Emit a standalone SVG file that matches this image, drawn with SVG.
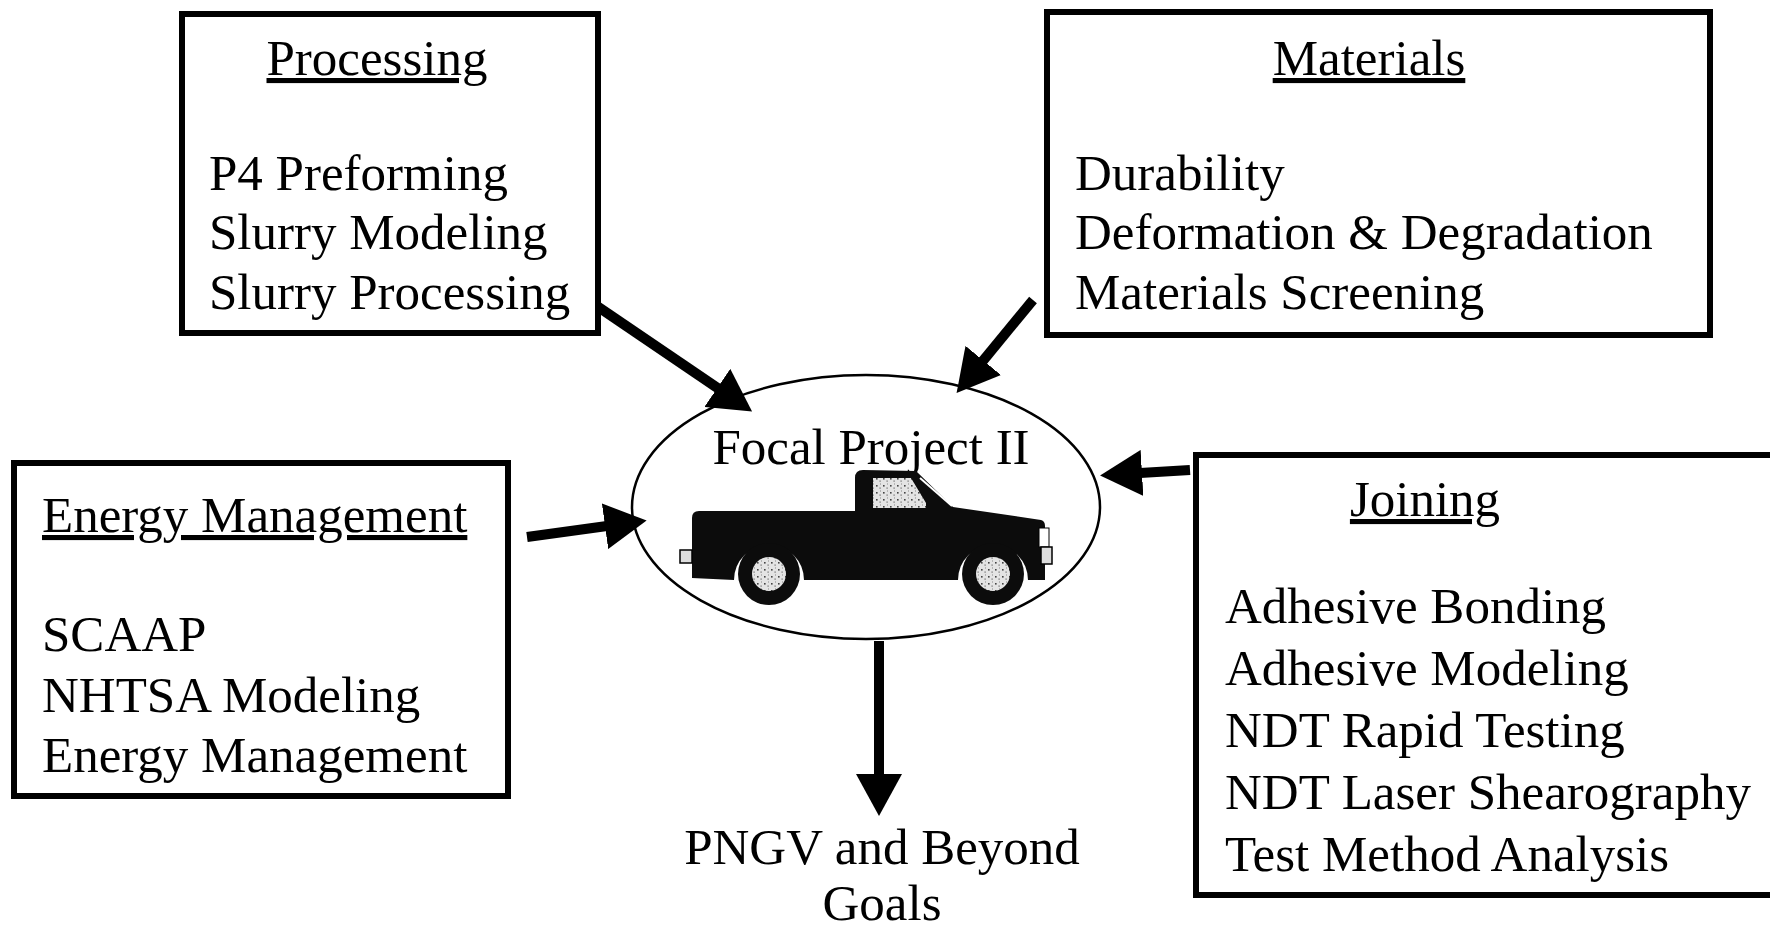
<svg xmlns="http://www.w3.org/2000/svg" width="1770" height="930" viewBox="0 0 1770 930">
  <defs>
    <style>
      .box { fill: #ffffff; stroke: #000000; stroke-width: 6; }
      .txt { font-family: "Liberation Serif", "Times New Roman", serif; font-size: 51px; fill: #000000; }
      .title { text-decoration: underline; }
      .mid { text-anchor: middle; }
      .shaft { stroke: #000000; stroke-width: 10; fill: none; marker-end: url(#head); }
    </style>
    <!-- solid triangular arrowhead, base at the line end -->
    <marker id="head" markerUnits="userSpaceOnUse" viewBox="0 0 42 46" markerWidth="42" markerHeight="46" refX="2" refY="23" orient="auto">
      <path d="M0,0 L42,23 L0,46 Z" fill="#000000"/>
    </marker>
    <!-- grainy light fill for the cab window and wheel hubs -->
    <pattern id="speck" width="7" height="7" patternUnits="userSpaceOnUse">
      <rect width="7" height="7" fill="#e4e4e4"/>
      <rect x="1" y="2" width="1.6" height="1.6" fill="#444"/>
      <rect x="4.5" y="4.5" width="1.2" height="1.2" fill="#666"/>
      <rect x="5" y="0.5" width="1" height="1" fill="#888"/>
    </pattern>
  </defs>

  <rect width="1770" height="930" fill="#ffffff"/>

  <!-- connectors -->
  <g id="connectors">
    <line class="shaft" x1="588" y1="300" x2="719" y2="389"/>
    <line class="shaft" x1="1033" y1="300" x2="982" y2="362"/>
    <line class="shaft" x1="1190" y1="470" x2="1140" y2="473"/>
    <line class="shaft" x1="527" y1="537" x2="607" y2="526"/>
    <line class="shaft" x1="879" y1="641" x2="879" y2="776"/>
  </g>

  <g id="processing">
    <rect class="box" x="182" y="14" width="416" height="319"/>
    <text class="txt title mid" x="377" y="75">Processing</text>
    <text class="txt" x="209" y="190">P4 Preforming</text>
    <text class="txt" x="209" y="249">Slurry Modeling</text>
    <text class="txt" x="209" y="309">Slurry Processing</text>
  </g>

  <g id="materials">
    <rect class="box" x="1047" y="12" width="663" height="323"/>
    <text class="txt title mid" x="1369" y="75">Materials</text>
    <text class="txt" x="1075" y="190">Durability</text>
    <text class="txt" x="1075" y="249">Deformation &amp; Degradation</text>
    <text class="txt" x="1075" y="309">Materials Screening</text>
  </g>

  <g id="energy-management">
    <rect class="box" x="14" y="463" width="494" height="333"/>
    <text class="txt title" x="42" y="532">Energy Management</text>
    <text class="txt" x="42" y="651">SCAAP</text>
    <text class="txt" x="42" y="712">NHTSA Modeling</text>
    <text class="txt" x="42" y="772">Energy Management</text>
  </g>

  <g id="joining">
    <rect class="box" x="1196" y="455" width="590" height="440"/>
    <text class="txt title mid" x="1425" y="516">Joining</text>
    <text class="txt" x="1225" y="623">Adhesive Bonding</text>
    <text class="txt" x="1225" y="685">Adhesive Modeling</text>
    <text class="txt" x="1225" y="747">NDT Rapid Testing</text>
    <text class="txt" x="1225" y="809">NDT Laser Shearography</text>
    <text class="txt" x="1225" y="871">Test Method Analysis</text>
  </g>

  <g id="focal-project">
    <ellipse cx="866" cy="507" rx="234" ry="132" fill="none" stroke="#000000" stroke-width="2.5"/>
    <text class="txt mid" x="871" y="464">Focal Project II</text>
    <!-- pickup truck -->
    <g id="truck">
      <path d="M692,518 Q692,511 699,511 L855,511 L855,478 Q855,470 863,470 L916,471 L953,507 L1041,520 Q1045,521 1045,526 L1045,580 L1028,580 A35,35 0 0 0 958,580 L804,580 A35,35 0 0 0 734,580 L692,578 Z" fill="#0c0c0c"/>
      <path d="M873,478 L911,478 L926,503 L926,508 L873,508 Z" fill="url(#speck)"/>
      <line x1="920" y1="478" x2="952" y2="506" stroke="#ffffff" stroke-width="2"/>
      <rect x="680" y="550" width="12" height="13" fill="#dddddd" stroke="#000000" stroke-width="1.5"/>
      <rect x="1039" y="528" width="10" height="19" fill="#ffffff" stroke="#000000" stroke-width="1"/>
      <rect x="1041" y="547" width="11" height="17" fill="#dddddd" stroke="#000000" stroke-width="1.5"/>
      <circle cx="769" cy="574" r="31" fill="#0c0c0c"/>
      <circle cx="769" cy="574" r="17" fill="url(#speck)"/>
      <circle cx="993" cy="574" r="31" fill="#0c0c0c"/>
      <circle cx="993" cy="574" r="17" fill="url(#speck)"/>
    </g>
  </g>

  <g id="goals">
    <text class="txt mid" x="882" y="864">PNGV and Beyond</text>
    <text class="txt mid" x="882" y="920">Goals</text>
  </g>
</svg>
